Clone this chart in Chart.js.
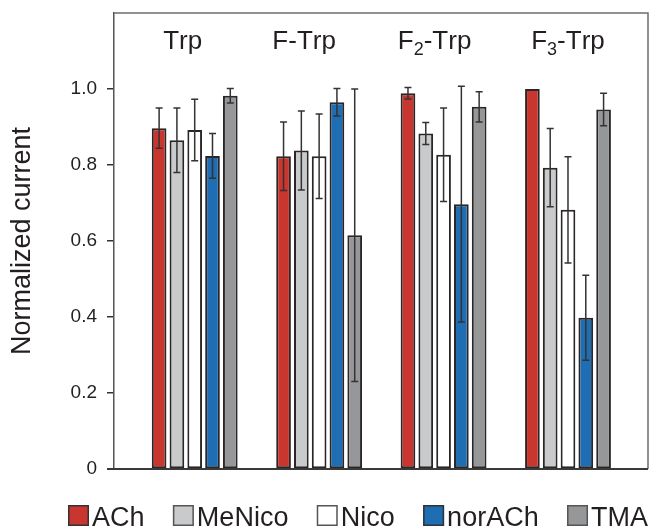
<!DOCTYPE html>
<html><head><meta charset="utf-8">
<script src="https://cdn.jsdelivr.net/npm/chart.js@4/dist/chart.umd.min.js"></script>
<style>html,body{margin:0;padding:0;background:#fff;} #wrap{width:652px;height:529px;position:relative;}</style>
</head><body><div id="wrap"><canvas id="c" width="652" height="529"></canvas></div>
<script>
// ---- data ----
const groups = ['Trp', 'F-Trp', 'F_2-Trp', 'F_3-Trp'];
const seriesNames = ['ACh', 'MeNico', 'Nico', 'norACh', 'TMA'];
const achValues    = [0.897, 0.823, 0.989, 1.000];
const achErrors    = [0.053, 0.090, 0.015, null];
const meNicoValues = [0.865, 0.838, 0.883, 0.793];
const meNicoErrors = [0.085, 0.104, 0.029, 0.103];
const nicoValues   = [0.892, 0.823, 0.827, 0.682];
const nicoErrors   = [0.081, 0.111, 0.123, 0.140];
const norAChValues = [0.824, 0.965, 0.697, 0.398];
const norAChErrors = [0.059, 0.036, 0.310, 0.112];
const tmaValues    = [0.982, 0.615, 0.953, 0.946];
const tmaErrors    = [0.019, 0.385, 0.040, 0.043];
const yTicks = [0, 0.2, 0.4, 0.6, 0.8, 1.0];

// ---- styles ----
const colors = ['#c9352f', '#c9cacc', '#ffffff', '#1f6db2', '#969799'];
const edge = '#2a2627';
const FONT = "'Liberation Sans', Arial, Helvetica, sans-serif";
const labelShiftPx = [-12, -15, -9, 0];

const valueSets = [achValues, meNicoValues, nicoValues, norAChValues, tmaValues];
const errorSets = [achErrors, meNicoErrors, nicoErrors, norAChErrors, tmaErrors];

const datasets = seriesNames.map((name, s) => ({
  label: name,
  data: valueSets[s].map((v, i) => ({x: i, y: v})),
  errors: errorSets[s],
  backgroundColor: colors[s],
  borderColor: edge,
  borderWidth: 2,
  borderSkipped: false,
  categoryPercentage: 0.715,
  barPercentage: 0.825
}));

const decorPlugin = {
  id: 'decor',
  afterDatasetsDraw(chart) {
    const ctx = chart.ctx;
    const y = chart.scales.y;
    ctx.save();
    ctx.strokeStyle = '#333';
    ctx.lineWidth = 1.5;
    chart.data.datasets.forEach((ds, di) => {
      const meta = chart.getDatasetMeta(di);
      meta.data.forEach((bar, j) => {
        const e = ds.errors[j];
        if (e == null) return;
        const v = ds.data[j].y;
        const yt = y.getPixelForValue(v + e), yb = y.getPixelForValue(v - e);
        ctx.beginPath();
        ctx.moveTo(bar.x, yt); ctx.lineTo(bar.x, yb);
        ctx.moveTo(bar.x - 3.5, yt); ctx.lineTo(bar.x + 3.5, yt);
        ctx.moveTo(bar.x - 3.5, yb); ctx.lineTo(bar.x + 3.5, yb);
        ctx.stroke();
      });
    });
    ctx.restore();
  },
  afterDraw(chart) {
    const ctx = chart.ctx;
    const a = chart.chartArea;
    const xs = chart.scales.x;
    ctx.save();
    // frame (top and right)
    ctx.strokeStyle = '#6d6d6d';
    ctx.lineWidth = 1.5;
    ctx.beginPath();
    ctx.moveTo(a.left, a.top); ctx.lineTo(a.right, a.top); ctx.lineTo(a.right, a.bottom);
    ctx.stroke();
    // bottom axis line
    ctx.strokeStyle = '#3a3a3a';
    ctx.lineWidth = 2;
    ctx.beginPath();
    ctx.moveTo(a.left - 7, a.bottom); ctx.lineTo(a.right, a.bottom);
    ctx.stroke();
    // group labels
    ctx.fillStyle = '#231f20';
    ctx.textBaseline = 'alphabetic';
    const big = 26, small = 18;
    groups.forEach((g, i) => {
      const parts = [];
      for (let k = 0; k < g.length; k++) {
        if (g[k] === '_') { parts.push({t: g[k + 1], sub: true}); k++; }
        else parts.push({t: g[k], sub: false});
      }
      let w = 0;
      parts.forEach(p => { ctx.font = (p.sub ? small : big) + 'px ' + FONT; p.w = ctx.measureText(p.t).width; w += p.w; });
      let x = xs.getPixelForValue(i) + labelShiftPx[i] - w / 2;
      parts.forEach(p => {
        ctx.font = (p.sub ? small : big) + 'px ' + FONT;
        ctx.textAlign = 'left';
        ctx.fillText(p.t, x, p.sub ? 55 : 49);
        x += p.w;
      });
    });
    // legend
    const fs = 27, box = 21, gap = 3, legLeft = 68, legRight = 648;
    ctx.font = fs + 'px ' + FONT;
    const widths = seriesNames.map(n => ctx.measureText(n).width);
    const total = widths.reduce((s, w) => s + w + box + gap, 0);
    const spacing = (legRight - legLeft - total) / (seriesNames.length - 1);
    let lx = legLeft;
    const ly = 505;
    seriesNames.forEach((n, s) => {
      ctx.fillStyle = colors[s];
      ctx.fillRect(lx, ly, box, box);
      ctx.strokeStyle = s === 0 || s === 3 ? '#333' : '#555';
      ctx.lineWidth = 1.5;
      ctx.strokeRect(lx + 0.75, ly + 0.75, box - 1.5, box - 1.5);
      ctx.fillStyle = '#231f20';
      ctx.textAlign = 'left';
      ctx.fillText(n, lx + box + gap, ly + box);
      lx += box + gap + widths[s] + spacing;
    });
    ctx.restore();
  }
};

new Chart(document.getElementById('c'), {
  type: 'bar',
  data: { datasets },
  options: {
    responsive: false,
    animation: false,
    layout: { padding: { top: 13, right: 4, bottom: 60, left: 0 } },
    plugins: { legend: { display: false }, tooltip: { enabled: false } },
    scales: {
      x: {
        type: 'linear', min: -0.6486, max: 3.643, display: false, offset: false,
        afterBuildTicks: s => { s.ticks = groups.map((g, i) => ({value: i})); }
      },
      y: {
        min: 0, max: 1.2,
        afterFit: s => { s.width = 114; s.paddingTop = 0; s.paddingBottom = 0; },
        afterBuildTicks: s => { s.ticks = yTicks.map(v => ({value: v})); },
        border: { display: true, color: '#555', width: 1.5 },
        grid: { drawOnChartArea: false, drawTicks: true, tickLength: 7, color: '#333', lineWidth: 1.5 },
        ticks: {
          padding: 10, color: '#231f20',
          font: { family: FONT, size: 19 },
          callback: v => v === 0 ? '0' : v.toFixed(1)
        },
        title: {
          display: true, text: 'Normalized current', color: '#231f20',
          font: { family: FONT, size: 27, lineHeight: 1.2 },
          padding: { top: 6, bottom: 0 }
        }
      }
    }
  },
  plugins: [decorPlugin]
});
</script></body></html>
